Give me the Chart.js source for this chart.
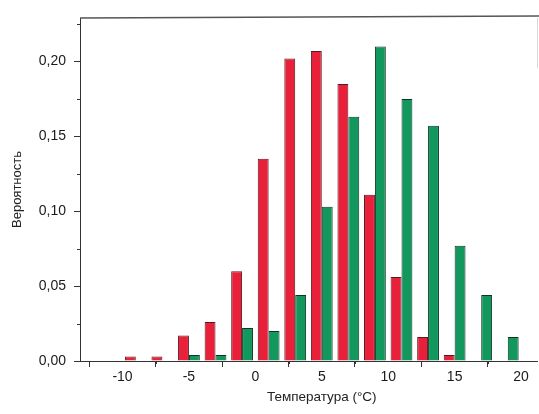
<!DOCTYPE html>
<html>
<head>
<meta charset="utf-8">
<script src="https://cdn.jsdelivr.net/npm/chart.js@4"></script>
<style>
  html, body { margin: 0; padding: 0; background: #fff; }
  #wrap { width: 539px; height: 414px; position: relative; }
</style>
</head>
<body>
<div id="wrap"><canvas id="c" width="539" height="414"></canvas></div>
<script>
// Bin centres (°C)
const temps = [-9, -7, -5, -3, -1, 1, 3, 5, 7, 9, 11, 13, 15, 17, 19];
// Red series
const redValues = [0.003, 0.003, 0.017, 0.026, 0.060, 0.135, 0.202, 0.207, 0.185, 0.111, 0.056, 0.016, 0.004, 0, 0];
// Green series
const greenValues = [0, 0, 0.004, 0.004, 0.022, 0.020, 0.044, 0.103, 0.163, 0.210, 0.175, 0.157, 0.077, 0.044, 0.016];
// Tick labels
const xTicks = [-10, -5, 0, 5, 10, 15, 20];
const xMinorTicks = [-12.5, -7.5, -2.5, 2.5, 7.5, 12.5, 17.5];
const yTicks = [0, 0.05, 0.10, 0.15, 0.20];
const yMinorTicks = [0.025, 0.075, 0.125, 0.175, 0.225];
const xTitle = 'Температура (°C)';
const yTitle = 'Вероятность';

const FONT = "'Liberation Sans', Arial, sans-serif";

const framePlugin = {
  id: 'frame',
  afterDraw(chart) {
    const { ctx, chartArea: a, scales } = chart;
    ctx.save();
    // top border
    ctx.strokeStyle = '#555';
    ctx.lineWidth = 1.5;
    ctx.beginPath();
    ctx.moveTo(a.left, a.top);
    ctx.lineTo(chart.width, a.top - 2);
    ctx.stroke();
    // right border (faint)
    ctx.strokeStyle = '#d8d8d8';
    ctx.lineWidth = 1;
    ctx.beginPath();
    ctx.moveTo(a.right + 0.5, a.top);
    ctx.lineTo(a.right + 0.5, a.top + 50);
    ctx.stroke();
    // minor ticks
    ctx.strokeStyle = '#333';
    ctx.lineWidth = 1;
    ctx.beginPath();
    xMinorTicks.forEach(v => {
      const x = Math.round(scales.x.getPixelForValue(v)) + 0.5;
      ctx.moveTo(x, a.bottom);
      ctx.lineTo(x, a.bottom + 3);
    });
    yMinorTicks.forEach(v => {
      const y = Math.round(scales.y.getPixelForValue(v)) + 0.5;
      ctx.moveTo(a.left, y);
      ctx.lineTo(a.left - 3, y);
    });
    ctx.stroke();
    // x axis title (slightly right of centre, as in the original)
    ctx.fillStyle = '#222';
    ctx.font = "13.5px " + FONT;
    ctx.textAlign = 'center';
    ctx.textBaseline = 'middle';
    ctx.fillText(xTitle, scales.x.getPixelForValue(5), 397);
    ctx.restore();
  }
};

new Chart(document.getElementById('c'), {
  type: 'bar',
  data: {
    datasets: [
      {
        label: 'red',
        data: temps.map((t, i) => ({ x: t, y: redValues[i] })),
        backgroundColor: '#e8203a',
        borderColor: '#5a1820',
        borderWidth: 1,
        categoryPercentage: 0.82,
        barPercentage: 1.0
      },
      {
        label: 'green',
        data: temps.map((t, i) => ({ x: t, y: greenValues[i] })),
        backgroundColor: '#12985c',
        borderColor: '#0e3524',
        borderWidth: 1,
        categoryPercentage: 0.82,
        barPercentage: 1.0
      }
    ]
  },
  options: {
    responsive: false,
    animation: false,
    layout: { padding: { left: 0, right: 2, top: 18, bottom: 0 } },
    plugins: { legend: { display: false }, tooltip: { enabled: false } },
    scales: {
      x: {
        type: 'linear',
        min: -13.2,
        max: 21.2,
        offset: false,
        afterBuildTicks(s) { s.ticks = xTicks.map(v => ({ value: v })); },
        afterFit(s) { s.height = 53; },
        grid: { display: true, drawOnChartArea: false, drawTicks: true, tickLength: 6, color: '#333' },
        border: { display: true, color: '#333', width: 1 },
        ticks: {
          color: '#1a1a1a',
          font: { family: FONT, size: 14 },
          padding: 2,
          maxRotation: 0,
          autoSkip: false,
          callback: v => String(v)
        },
        title: { display: false }
      },
      y: {
        type: 'linear',
        min: 0,
        max: 0.229,
        afterBuildTicks(s) { s.ticks = yTicks.map(v => ({ value: v })); },
        afterFit(s) { s.width = 80; },
        grid: { display: true, drawOnChartArea: false, drawTicks: true, tickLength: 6, color: '#333' },
        border: { display: true, color: '#333', width: 1 },
        ticks: {
          color: '#1a1a1a',
          font: { family: FONT, size: 14 },
          padding: 8,
          callback: v => v.toFixed(2).replace('.', ',')
        },
        title: {
          display: true,
          text: yTitle,
          color: '#222',
          font: { family: FONT, size: 13 },
          padding: { top: 10, bottom: 0 }
        }
      }
    }
  },
  plugins: [framePlugin]
});
</script>
</body>
</html>
